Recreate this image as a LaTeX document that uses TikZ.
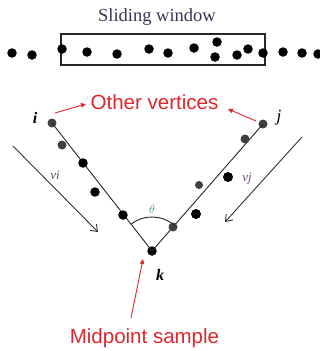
\documentclass[tikz,border=0pt]{standalone}
\usepackage{fontspec}
\setmainfont{Liberation Serif}
\newfontfamily\arialf{Liberation Sans}
\usetikzlibrary{arrows.meta}
\definecolor{redtxt}{RGB}{222,38,44}
\definecolor{slidec}{RGB}{55,55,80}
\definecolor{thetac}{RGB}{70,150,110}
\definecolor{vjc}{RGB}{110,70,130}
\definecolor{vic}{RGB}{90,80,80}
\tikzset{
  dotn/.style={circle,fill=black,inner sep=0pt,minimum size=9.5pt},
  dotl/.style={circle,fill=black!75,inner sep=0pt,minimum size=9pt},
  ln/.style={draw=black!85,line width=0.9pt},
  vline/.style={draw=black!80,line width=0.9pt,-{Straight Barb[length=6pt,width=9pt]}},
  redarrow/.style={draw=redtxt,line width=0.9pt,-{Triangle[length=5pt,width=4.5pt]}},
  redlabel/.style={text=redtxt,font=\arialf\fontsize{20.5}{21}\selectfont,inner sep=1pt},
  vlabel/.style={font=\itshape\fontsize{13}{13}\selectfont,inner sep=0pt},
  ijk/.style={font=\bfseries\itshape\fontsize{16}{16}\selectfont,inner sep=0pt}
}
\begin{document}
\begin{tikzpicture}[x=1pt,y=-1pt]
\useasboundingbox (0,0) rectangle (320,351);
% sliding window
\node[text=slidec,font=\fontsize{18.5}{19}\selectfont,inner sep=0pt] (sw) at (157,17) {Sliding window};
\node[draw=black!85,line width=1.2pt,minimum width=204pt,minimum height=31pt,inner sep=0pt] (win) at (163,49.5) {};
% row of dots
\foreach \n/\x/\y in {r1/12/53,r2/32/55,r3/62/49,r4/87/52,r5/117/54,r6/149/49,r7/168/53,r8/194/48,r9/217/42,r10/215/57,r11/237/55,r12/248/49,r13/263/53,r14/283/52,r15/302/53,r16/318/54}
  \node[dotn] (\n) at (\x,\y) {};
% main vertices
\node[dotl] (i) at (52,123) {};
\node[dotl] (j) at (263,124) {};
\node[dotn] (k) at (152,251) {};
\draw[ln] (i.center) -- (k.center) -- (j.center);
% dots along i side
\node[dotl] (a1) at (62,145) {};
\node[dotn] (a2) at (83,163) {};
\node[dotn] (a3) at (95,192) {};
\node[dotn] (a4) at (123,215) {};
% dots along j side
\node[dotl] (b1) at (245,139) {};
\node[dotn,minimum size=10pt] (b2) at (228,177) {};
\node[dotl,minimum size=8pt] (b3) at (199,185) {};
\node[dotn,minimum size=10pt] (b4) at (196,214) {};
\node[dotl] (b5) at (173,227) {};
% angle arc
\draw[ln] ([shift={(-128:34)}]k.center) arc[start angle=-128,end angle=-48,radius=34];
\node[text=thetac,font=\fontsize{12}{12}\selectfont,inner sep=0pt] (th) at (152,209) {$\theta$};
% labels i j k
\node[ijk] (li) at (35,118) {i};
\node[font=\itshape\fontsize{17}{17}\selectfont,inner sep=0pt] (lj) at (279,118) {j};
\node[ijk] (lk) at (160,275) {k};
% direction arrows
\coordinate (vis) at (13,146);
\coordinate (vie) at (98,232);
\coordinate (vjs) at (302,137);
\coordinate (vje) at (225,222);
\draw[vline] (vis) -- (vie);
\draw[vline] (vjs) -- (vje);
\node[vlabel,text=vic] (lvi) at (55,175) {vi};
\node[vlabel,text=vjc] (lvj) at (247,179) {vj};
% other vertices
\node[redlabel] (ov) at (154.5,102) {Other vertices};
\coordinate (oa1) at (55,113);
\coordinate (oa2) at (86,104);
\coordinate (ob1) at (256,121);
\coordinate (ob2) at (228,109);
\draw[redarrow] (oa1) -- (oa2);
\draw[redarrow] (ob1) -- (ob2);
% midpoint sample
\node[redlabel] (ms) at (144.5,338) {Midpoint sample};
\coordinate (ma1) at (131,318);
\coordinate (ma2) at (143,259);
\draw[redarrow] (ma1) -- (ma2);
\end{tikzpicture}
\end{document}
